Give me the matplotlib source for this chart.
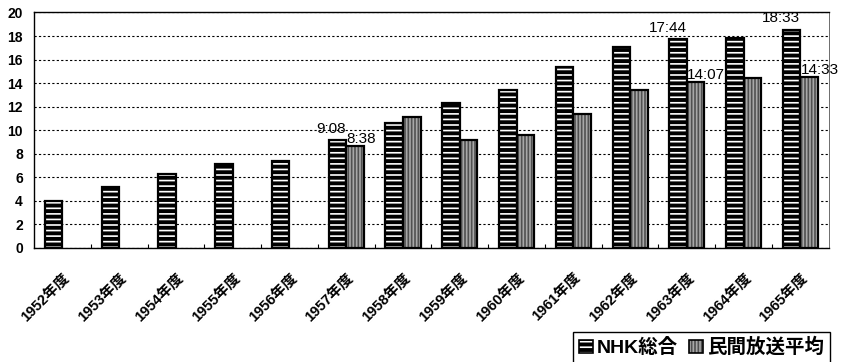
import numpy as np
import matplotlib
matplotlib.use('Agg')
import matplotlib.pyplot as plt
from matplotlib.patches import Patch
from matplotlib.legend_handler import HandlerTuple

# 年度ごとの放送時間（時間）
years = ['1952年度', '1953年度', '1954年度', '1955年度', '1956年度', '1957年度', '1958年度',
         '1959年度', '1960年度', '1961年度', '1962年度', '1963年度', '1964年度', '1965年度']
nhk = [4.0, 5.2, 6.3, 7.1, 7.35, 9.13, 10.6, 12.35, 13.4, 15.4, 17.1, 17.73, 17.8, 18.55]
minpo = [np.nan, np.nan, np.nan, np.nan, np.nan,
         8.63, 11.1, 9.13, 9.62, 11.37, 13.44, 14.12, 14.43, 14.55]

# 値ラベル（年度のインデックス, 表示）
nhk_labels = [(5, '9:08'), (11, '17:44'), (13, '18:33')]
minpo_labels = [(5, '8:38'), (11, '14:07'), (13, '14:33')]

series_names = ['NHK総合', '民間放送平均']

plt.rcParams['font.family'] = ['Liberation Sans', 'Noto Sans CJK JP', 'DejaVu Sans']
plt.rcParams['hatch.linewidth'] = 1.2

NHK_STYLE = dict(facecolor='black', edgecolor='white', hatch='---', linewidth=0)
MINPO_STYLE = dict(facecolor='#a8a8a8', edgecolor='#505050', hatch='|||||', linewidth=0)


def draw_bars(ax, x, w):
    # NHK: 黒地に白い横縞
    ax.bar(x - w / 2, nhk, w, **NHK_STYLE)
    ax.bar(x - w / 2, nhk, w, fill=False, edgecolor='black', linewidth=1.6)
    # 民放: 灰色地に縦縞
    ax.bar(x + w / 2, minpo, w, **MINPO_STYLE)
    ax.bar(x + w / 2, minpo, w, fill=False, edgecolor='black', linewidth=1.6)


def draw_value_labels(ax, x, w):
    for i, text in nhk_labels:
        ax.annotate(text, (x[i], nhk[i]), xytext=(0, 3), textcoords='offset points',
                    ha='right', va='bottom', fontsize=11)
    for i, text in minpo_labels:
        ax.annotate(text, (x[i], minpo[i]), xytext=(0, 0), textcoords='offset points',
                    ha='left', va='bottom', fontsize=11)


def main():
    fig = plt.figure(figsize=(8.44, 3.62), dpi=100)
    ax = fig.add_axes([0.0403, 0.315, 0.9417, 0.6505])

    x = np.arange(len(years))
    w = 0.31
    draw_bars(ax, x, w)
    draw_value_labels(ax, x, w)

    ax.set_xlim(-0.5, len(years) - 0.5)
    ax.set_ylim(0, 20)
    ax.set_yticks(range(0, 21, 2))
    ax.tick_params(axis='y', length=0, pad=8, labelsize=10)
    for lbl in ax.get_yticklabels():
        lbl.set_fontweight('bold')

    # 目盛りは年度の区切りに、ラベルは中央に
    ax.set_xticks(x)
    ax.set_xticklabels(years, rotation=45, ha='right', rotation_mode='anchor',
                       fontsize=10.5, fontweight='bold')
    ax.tick_params(axis='x', length=0, pad=16)
    ax.set_xticks(np.arange(0.5, len(years) - 1, 1), minor=True)
    ax.tick_params(axis='x', which='minor', direction='in', length=3, width=0.8)

    ax.yaxis.grid(True, color='black', linestyle=(0, (2, 2)), linewidth=0.8)
    ax.set_axisbelow(True)
    for side in ['left', 'bottom', 'top']:
        ax.spines[side].set_linewidth(1.0)
    ax.spines['right'].set_linewidth(0.6)
    ax.spines['right'].set_color('#555555')

    # 凡例: 模様の上に黒枠を重ねる
    frame = dict(fill=False, edgecolor='black', linewidth=1.2)
    handles = [(Patch(**NHK_STYLE), Patch(**frame)),
               (Patch(**MINPO_STYLE), Patch(**frame))]
    leg = fig.legend(handles, series_names, loc='upper right', bbox_to_anchor=(0.983, 0.083),
                     handler_map={tuple: HandlerTuple(ndivide=1, pad=0)},
                     ncol=2, fancybox=False, framealpha=1, edgecolor='black',
                     handlelength=0.7, handleheight=0.7, handletextpad=0.2, columnspacing=0.6,
                     borderpad=0.3, borderaxespad=0, prop={'size': 14, 'weight': 'bold'})
    leg.get_frame().set_linewidth(1.0)

    fig.savefig('out.png', dpi=100)


if __name__ == "__main__":
    main()
